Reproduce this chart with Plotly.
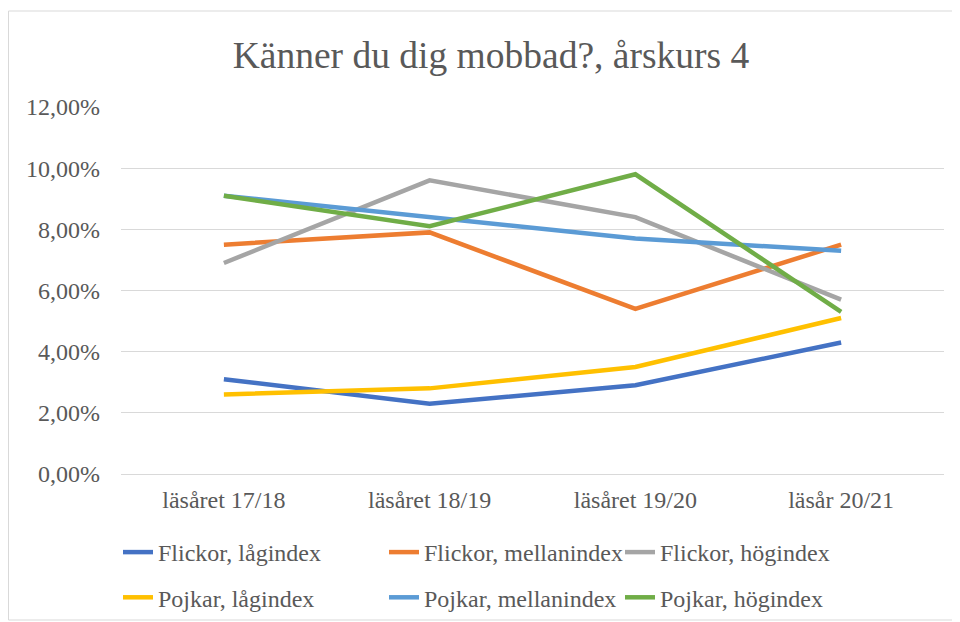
import plotly.graph_objects as go

categories = ["läsåret 17/18", "läsåret 18/19", "läsåret 19/20", "läsår 20/21"]
flickor_lag = [3.1, 2.3, 2.9, 4.3]
flickor_mellan = [7.5, 7.9, 5.4, 7.5]
flickor_hog = [6.9, 9.6, 8.4, 5.7]
pojkar_lag = [2.6, 2.8, 3.5, 5.1]
pojkar_mellan = [9.1, 8.4, 7.7, 7.3]
pojkar_hog = [9.1, 8.1, 9.8, 5.3]
y_ticks = [0, 2, 4, 6, 8, 10, 12]
y_tick_labels = ["0,00%", "2,00%", "4,00%", "6,00%", "8,00%", "10,00%", "12,00%"]

series = [
    ("Flickor, lågindex", flickor_lag, "#4472C4", "legend"),
    ("Flickor, mellanindex", flickor_mellan, "#ED7D31", "legend2"),
    ("Flickor, högindex", flickor_hog, "#A5A5A5", "legend3"),
    ("Pojkar, lågindex", pojkar_lag, "#FFC000", "legend"),
    ("Pojkar, mellanindex", pojkar_mellan, "#5B9BD5", "legend2"),
    ("Pojkar, högindex", pojkar_hog, "#70AD47", "legend3"),
]

FONT = "Liberation Serif"
GREY = "#595959"

fig = go.Figure()
for i, (name, vals, color, leg) in enumerate(series):
    fig.add_trace(go.Scatter(
        x=categories, y=vals, mode="lines", name=name,
        line=dict(color=color, width=4.5),
        legend=leg, legendgroup=name,
        hovertemplate="%{x}: %{y:.2f}%<extra>" + name + "</extra>",
    ))

# the page body has an 8px margin, so the figure is sized to fit the 960x622 window
W, H = 952, 614
l, r, t, b = 113, 16, 99, 148
pw, ph = W - l - r, H - t - b

def px_x(p):
    return (p - l) / pw

def px_y(p):
    return (H - b - p) / ph

leg_common = dict(
    orientation="v", font=dict(family=FONT, size=24, color=GREY),
    bgcolor="rgba(0,0,0,0)", tracegroupgap=11, itemwidth=30,
    yanchor="top", xanchor="left", y=px_y(522),
)

fig.update_layout(
    width=W, height=H,
    margin=dict(l=l, r=r, t=t, b=b, autoexpand=False),
    paper_bgcolor="white", plot_bgcolor="white",
    font=dict(family=FONT, size=24, color=GREY),
    title=dict(text="Känner du dig mobbad?, årskurs 4", x=483 / W, xanchor="center",
               y=1 - 47 / H, yanchor="middle",
               font=dict(family=FONT, size=37.5, color=GREY)),
    xaxis=dict(type="category", range=[-0.5, 3.5], showgrid=False, zeroline=False,
               showline=False, ticks="", ticklabelstandoff=9, automargin=False,
               tickfont=dict(family=FONT, size=24, color=GREY),
               fixedrange=True),
    yaxis=dict(range=[0, 12], tickmode="array", tickvals=y_ticks, ticktext=y_tick_labels,
               showgrid=True, gridcolor="#D9D9D9", gridwidth=1,
               zeroline=True, zerolinecolor="#D9D9D9", zerolinewidth=1,
               showline=False, ticks="", ticklabelstandoff=20, automargin=False,
               tickfont=dict(family=FONT, size=24, color=GREY), fixedrange=True),
    legend=dict(leg_common, x=px_x(110)),
    legend2=dict(leg_common, x=px_x(376)),
    legend3=dict(leg_common, x=px_x(612)),
    shapes=[dict(type="rect", xref="paper", yref="paper",
                 x0=px_x(0.5), x1=px_x(960), y0=px_y(612), y1=px_y(3),
                 line=dict(color="#D9D9D9", width=1), fillcolor="rgba(0,0,0,0)",
                 layer="below")],
    showlegend=True,
)

fig.write_html("out.html")
